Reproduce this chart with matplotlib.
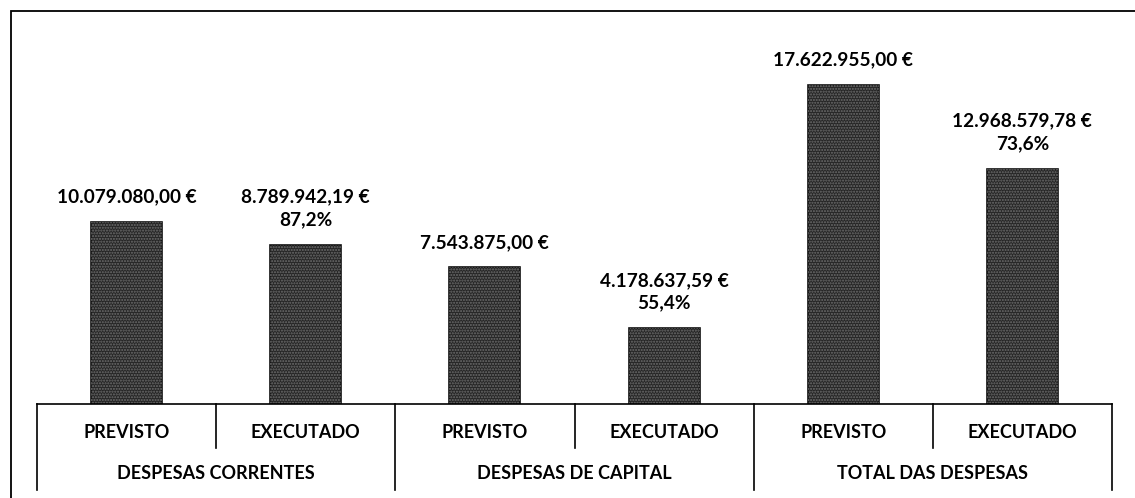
import matplotlib.pyplot as plt
import matplotlib.patches as mpatches

plt.rcParams['font.family'] = ['Lato', 'DejaVu Sans']

groups = ['DESPESAS CORRENTES', 'DESPESAS DE CAPITAL', 'TOTAL DAS DESPESAS']
kinds = ['PREVISTO', 'EXECUTADO']
values = [10079080.00, 8789942.19, 7543875.00, 4178637.59, 17622955.00, 12968579.78]
value_labels = ['10.079.080,00 €', '8.789.942,19 €', '7.543.875,00 €',
                '4.178.637,59 €', '17.622.955,00 €', '12.968.579,78 €']
pct_labels = [None, '87,2%', None, '55,4%', None, '73,6%']

W, H, DPI = 1135, 498, 100
fig = plt.figure(figsize=(W / DPI, H / DPI), dpi=DPI)
fig.patch.set_facecolor('white')

# plot area in pixels
x0, x1 = 37, 1112
y_base, y_top = 404, 11
ax = fig.add_axes([x0 / W, (H - y_base) / H, (x1 - x0) / W, (y_base - y_top) / H])
ax_h = y_base - y_top

# outer frame
fig.add_artist(mpatches.Rectangle((11 / W, -0.1), 1.2, (H - 11) / H + 0.1,
                                  transform=fig.transFigure, fill=False,
                                  edgecolor='black', linewidth=1.3))

xs = list(range(len(values)))
bar_w = 71 / ((x1 - x0) / 6)
ax.bar(xs, values, width=bar_w, color='#262626', edgecolor='#111111', linewidth=1.2)
# speckled fill
ax.bar(xs, values, width=bar_w, facecolor='none', edgecolor='#6e6e6e',
       linewidth=0, hatch='......')

ax.set_xlim(-0.5, 5.5)
ax.set_ylim(0, ax_h / 18.1 * 1e6)
for s in ['top', 'right', 'left']:
    ax.spines[s].set_visible(False)
ax.spines['bottom'].set_linewidth(1.2)
ax.set_xticks([])
ax.set_yticks([])

# value labels above bars
for x, v, lab, pct in zip(xs, values, value_labels, pct_labels):
    txt = lab if pct is None else lab + '\n' + pct
    ax.annotate(txt, (x, v), xytext=(0, 12), textcoords='offset points',
                ha='center', va='bottom', fontsize=13.7, fontweight='bold',
                linespacing=1.42)

# two-level category axis
tr = ax.get_xaxis_transform()
inner = -44 / ax_h
outer = -86 / ax_h
for b in [i - 0.5 for i in range(7)]:
    y_end = outer if round(b + 0.5) % 2 == 0 else inner
    ax.plot([b, b], [0, y_end], transform=tr, color='black', lw=1.2, clip_on=False)

for x in xs:
    ax.annotate(kinds[x % 2], (x, 0), xycoords=tr, xytext=(0, -28 * 0.72),
                textcoords='offset points', ha='center', va='center',
                fontsize=13, fontweight='bold')
for g, name in enumerate(groups):
    ax.annotate(name, (2 * g + 0.5, 0), xycoords=tr, xytext=(0, -69 * 0.72),
                textcoords='offset points', ha='center', va='center',
                fontsize=13, fontweight='bold')

fig.savefig('out.png', dpi=DPI)
